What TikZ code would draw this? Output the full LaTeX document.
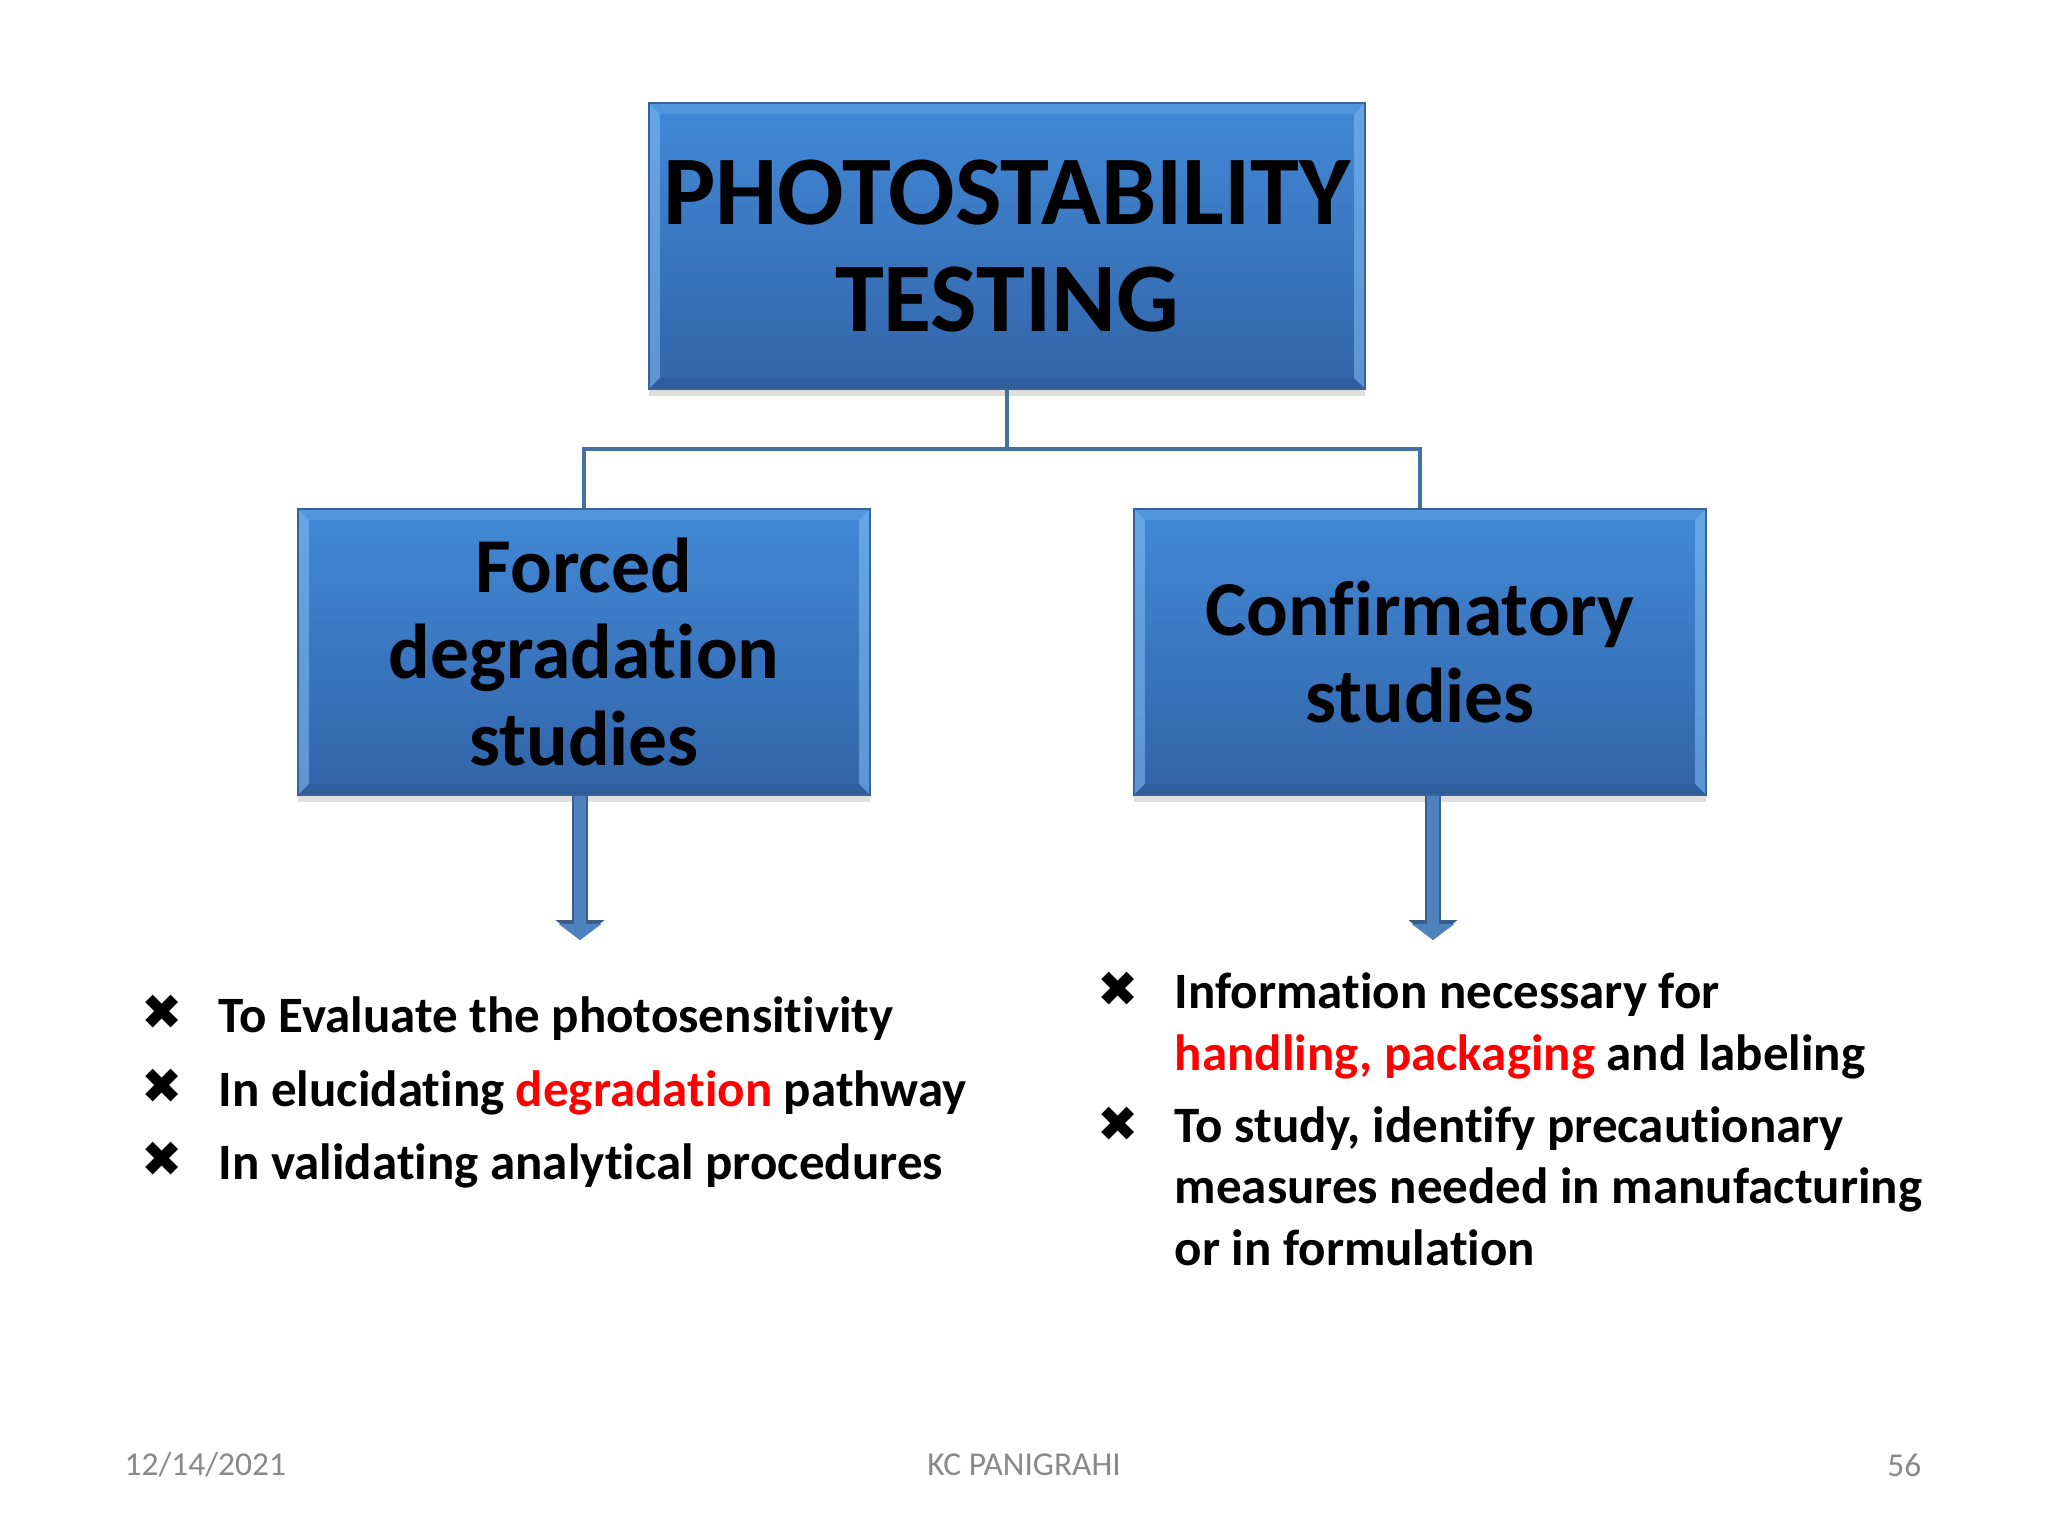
\documentclass[tikz,border=0pt]{standalone}
\usepackage{fontspec}
\setmainfont{Carlito}[Ligatures=NoCommon]
\newfontfamily\symfont{DejaVu Sans}
\usetikzlibrary{positioning,calc,arrows.meta,shadows}

\definecolor{boxtop}{RGB}{66,137,215}
\definecolor{boxbottom}{RGB}{50,100,168}
\definecolor{boxedge}{RGB}{58,98,152}
\definecolor{bevellight}{RGB}{130,190,245}
\definecolor{beveldark}{RGB}{40,80,135}
\definecolor{linkblue}{RGB}{68,114,160}
\definecolor{arrowfill}{RGB}{79,129,189}
\definecolor{arrowedge}{RGB}{56,93,138}
\definecolor{hlred}{RGB}{255,0,0}
\definecolor{footgray}{RGB}{137,137,137}

\tikzset{
	bluebox/.style={draw=boxedge, line width=0.6pt, top color=boxtop, bottom color=boxbottom,
		align=center, inner sep=0pt,
		drop shadow={shadow xshift=0pt, shadow yshift=-2pt, opacity=0.25},
		path picture={
			\fill[bevellight, opacity=0.55] (path picture bounding box.north west) -- (path picture bounding box.south west)
				-- ([shift={(11,-11)}]path picture bounding box.south west) -- ([shift={(11,11)}]path picture bounding box.north west) -- cycle;
			\fill[bevellight, opacity=0.55] (path picture bounding box.north east) -- (path picture bounding box.south east)
				-- ([shift={(-11,-11)}]path picture bounding box.south east) -- ([shift={(-11,11)}]path picture bounding box.north east) -- cycle;
			\fill[bevellight, opacity=0.25] (path picture bounding box.north west) -- (path picture bounding box.north east)
				-- ([shift={(-11,11)}]path picture bounding box.north east) -- ([shift={(11,11)}]path picture bounding box.north west) -- cycle;
			\fill[beveldark, opacity=0.3] (path picture bounding box.south west) -- (path picture bounding box.south east)
				-- ([shift={(-11,-11)}]path picture bounding box.south east) -- ([shift={(11,-11)}]path picture bounding box.south west) -- cycle;
		}},
	link/.style={draw=linkblue, line width=1.1pt},
	blockarrow/.style={draw=arrowfill, line width=0.12cm, -{Triangle[width=0.42cm,length=0.16cm]},
		preaction={draw=arrowedge, line width=0.16cm, -{Triangle[width=0.48cm,length=0.2cm]}}},
	bullet/.style={font=\symfont\fontsize{14pt}{14pt}\selectfont, inner sep=0pt},
	item/.style={font=\bfseries\fontsize{14.5pt}{17.4pt}\selectfont, anchor=base west, inner sep=0pt, align=left},
	foot/.style={font=\fontsize{9.5pt}{11pt}\selectfont, text=footgray, inner sep=0pt}
}

\begin{document}
\begin{tikzpicture}[x=0.01cm, y=-0.01cm]
	\fill[white] (0,0) rectangle (2048,1536);
	\useasboundingbox (0,0) rectangle (2048,1536);

	% boxes
	\node[bluebox, minimum width=7.16cm, minimum height=2.86cm, font=\bfseries\fontsize{28pt}{30.6pt}\selectfont] (photo) at (1007,246) {PHOTOSTABILITY\\TESTING};
	\node[bluebox, minimum width=5.72cm, minimum height=2.86cm, font=\bfseries\fontsize{22.1pt}{24.6pt}\selectfont] (forced) at (584,652) {Forced\\degradation\\studies};
	\node[bluebox, minimum width=5.72cm, minimum height=2.86cm, font=\bfseries\fontsize{22.1pt}{24.6pt}\selectfont] (confirm) at (1420,652) {Confirmatory\\studies};

	\draw[link] (photo.south) -- ++(0,59) -| (forced.north);
	\draw[link] (photo.south) -- ++(0,59) -| (confirm.north);

	% down arrows
	\coordinate (forcedend) at (580,940);
	\coordinate (confirmend) at (1433,940);
	\draw[blockarrow] (forced.south -| forcedend) -- (forcedend);
	\draw[blockarrow] (confirm.south -| confirmend) -- (confirmend);

	% left list
	\node[bullet] (lb1) at (162,1012) {✖};
	\node[item] (li1) at (218,1032) {To Evaluate the photosensitivity};
	\node[bullet] (lb2) at (162,1086) {✖};
	\node[item] (li2) at (218,1106) {In elucidating \textcolor{hlred}{degradation} pathway};
	\node[bullet] (lb3) at (162,1159) {✖};
	\node[item] (li3) at (218,1179) {In validating analytical procedures};

	% right list (base = last line)
	\node[bullet] (rb1) at (1118,989) {✖};
	\node[item] (ri1) at (1174,1070) {Information necessary for\\\textcolor{hlred}{handling, packaging} and labeling};
	\node[bullet] (rb2) at (1118,1124) {✖};
	\node[item] (ri2) at (1174,1265) {To study, identify precautionary\\measures needed in manufacturing\\or in formulation};

	% footer
	\node[foot, anchor=west] (date) at (124,1465) {12/14/2021};
	\node[foot] (author) at (1024,1465) {KC PANIGRAHI};
	\node[foot, anchor=east] (page) at (1922,1465) {56};
\end{tikzpicture}
\end{document}
